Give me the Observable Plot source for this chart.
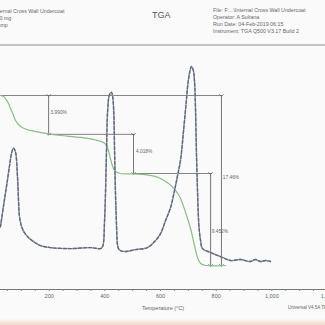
<!DOCTYPE html>
<html><head><meta charset="utf-8">
<script src="https://cdn.jsdelivr.net/npm/d3@7"></script>
<script src="https://cdn.jsdelivr.net/npm/@observablehq/plot@0.6"></script>
<style>
body{margin:0;background:#fff;}
#wrap{position:relative;width:325px;height:325px;overflow:hidden;font-family:"Liberation Sans",Arial,sans-serif;background:#fafafa}
#wrap svg{position:absolute;left:0;top:0}
.h{position:absolute;font-size:5.3px;color:#666;white-space:nowrap;line-height:7px}
#rule{position:absolute;left:0;top:44px;width:325px;height:2px;background:#c4c4c4}
#tint{position:absolute;left:0;top:319px;width:325px;height:6px;background:linear-gradient(#fafafa,#f2d8c6)}
</style></head><body>
<div id="wrap">
  <div class="h" style="left:-27px;top:8px">Sample: Internal Cross Wall Undercoat<br>Size: 9.2350 mg<br>Method: Ramp</div>
  <div class="h" style="left:152px;top:12px;font-size:9px;color:#555">TGA</div>
  <div class="h" style="left:213px;top:7px">File: F:...\Internal Cross Wall Undercoat<br>Operator: A Sultana<br>Run Date: 04-Feb-2019 06:15<br>Instrument: TGA Q500 V3.17 Build 2</div>
  <div id="rule"></div>
  <div class="h" style="left:288px;top:304px;font-size:4.5px">Universal V4.5A TA Instruments</div>
  <div id="tint"></div>
</div>
<script>
// Weight (%) vs temperature (°C)
const weightT   = [25, 36, 43, 54, 61, 72, 79, 90, 97, 115, 133, 169, 198, 241, 313, 367, 395, 406, 413, 420, 427, 435, 445, 456, 510, 564, 600, 629, 654, 672, 690, 708, 722, 733, 744, 762, 798, 834];
const weightPct = [100, 99.9, 99.69, 99.18, 98.67, 97.95, 97.43, 97.02, 96.82, 96.56, 96.41, 96.2, 96.05, 95.89, 95.69, 95.43, 95.17, 94.87, 94.35, 93.53, 92.81, 92.3, 92.09, 91.99, 91.94, 91.79, 91.48, 90.97, 90.25, 89.43, 87.99, 86.34, 84.6, 83.37, 82.75, 82.54, 82.5, 82.54];

// Derivative weight (%/min) vs temperature (°C)
const derivT   = [25, 36, 47, 58, 65, 72, 79, 86, 90, 93, 100, 111, 126, 144, 169, 205, 277, 349, 384, 392, 399, 406, 410, 417, 424, 428, 432, 435, 438, 442, 445, 449, 456, 474, 510, 553, 582, 600, 618, 636, 650, 661, 672, 683, 693, 700, 708, 711, 718, 722, 726, 729, 733, 738, 744, 751, 780, 815, 852, 887, 923, 941, 959, 977, 995];
const derivVal = [0.39, 0.60, 0.80, 1.01, 1.13, 1.18, 1.14, 0.90, 0.65, 0.50, 0.40, 0.33, 0.28, 0.24, 0.20, 0.18, 0.17, 0.18, 0.17, 0.19, 0.45, 1.15, 1.55, 1.72, 1.74, 1.70, 1.55, 1.15, 0.75, 0.40, 0.22, 0.17, 0.15, 0.14, 0.16, 0.18, 0.25, 0.32, 0.45, 0.58, 0.75, 0.90, 1.06, 1.36, 1.66, 1.86, 1.98, 2.0, 1.96, 1.86, 1.55, 1.15, 0.75, 0.40, 0.25, 0.17, 0.13, 0.09, 0.05, 0.06, 0.04, 0.06, 0.04, 0.05, 0.04];

// Step-change annotations
const stepLabels = ["3.990%", "4.018%", "9.452%", "17.46%"];
const stepT      = [198, 503, 780, 819];
const stepTop    = [100, 96.01, 91.99, 100];
const stepBottom = [96.01, 91.99, 82.54, 82.54];
const labelT     = [205, 512, 784, 824];
const labelW     = [98.25, 94.25, 86.0, 91.6];
const guideW     = [100, 96.01, 91.99];
const guideFrom  = [0, 198, 503];
const guideTo    = [823, 510, 787];

const xTicks = d3.range(0, 1201, 50);

const weight = weightT.map((t, i) => ({t, w: weightPct[i]}));
const deriv = derivT.map((t, i) => ({t, d: derivVal[i]}));
const steps = stepT.map((t, i) => ({t, top: stepTop[i], bottom: stepBottom[i], label: stepLabels[i], lt: labelT[i], lw: labelW[i]}));
const guides = guideW.map((w, i) => ({w, x1: guideFrom[i], x2: guideTo[i]}));

// secondary (derivative) axis expressed in weight-axis units
const derivToW = d3.scaleLinear().domain([0, 2]).range([82.54, 102.98]);

const chart = Plot.plot({
  width: 325, height: 325,
  marginTop: 46, marginBottom: 36, marginLeft: 0, marginRight: 0,
  style: {background: "transparent", fontFamily: "Liberation Sans, Arial, sans-serif", fontSize: "5.5px", color: "#666", overflow: "visible"},
  x: {domain: [0, 1200], range: [-7, 327]},
  y: {domain: [82.54, 100], range: [265, 95], axis: null},
  marks: [
    Plot.frame({anchor: "bottom", stroke: "#777"}),
    Plot.axisX({ticks: xTicks, tickSize: 2, tickPadding: 3, stroke: "#888",
      tickFormat: d => d % 200 === 0 && d > 0 ? d : "",
      label: "Temperature (°C)", labelAnchor: "center", labelOffset: 20, labelArrow: "none"}),
    Plot.ruleY(guides, {y: "w", x1: "x1", x2: "x2", stroke: "#777", strokeWidth: 0.9}),
    Plot.link(steps, {x1: "t", x2: "t", y1: "top", y2: "bottom", stroke: "#666", strokeWidth: 0.9, markerStart: "arrow", markerEnd: "arrow"}),
    Plot.text(steps, {x: "lt", y: "lw", text: "label", textAnchor: "start", fontSize: 4.8, fill: "#666"}),
    Plot.line(weight, {x: "t", y: "w", stroke: "#8cbc86", strokeWidth: 1.2, curve: "catmull-rom"}),
    Plot.line(deriv, {x: "t", y: d => derivToW(d.d), stroke: "#a6aab8", strokeWidth: 1.4, curve: "catmull-rom"}),
    Plot.line(deriv, {x: "t", y: d => derivToW(d.d), stroke: "#61677b", strokeWidth: 1.4, strokeDasharray: "3,2", curve: "catmull-rom"})
  ]
});
document.getElementById("wrap").prepend(chart);
</script>
</body></html>
